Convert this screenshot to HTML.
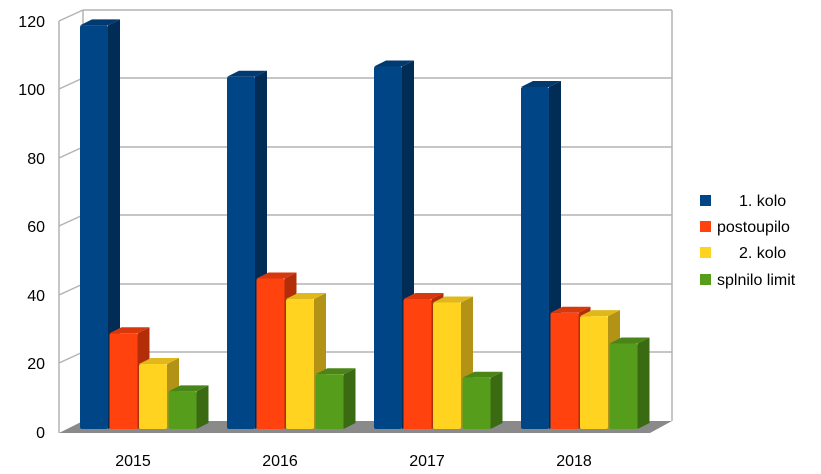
<!DOCTYPE html>
<html><head><meta charset="utf-8"><style>body{margin:0;background:#fff}svg{display:block}text{font-family:"Liberation Sans",sans-serif;fill:#000}</style></head><body>
<svg width="821" height="474" viewBox="0 0 821 474" xmlns="http://www.w3.org/2000/svg">
<g stroke="#b3b3b3" stroke-width="1.5" fill="none">
<line x1="83" y1="10" x2="83" y2="421"/><line x1="672" y1="10" x2="672" y2="421"/>
<line x1="59" y1="21" x2="59" y2="433"/>
<line x1="83" y1="10" x2="672" y2="10"/><line x1="59" y1="21" x2="83" y2="10"/>
<line x1="83" y1="78" x2="672" y2="78"/><line x1="59" y1="89" x2="83" y2="78"/>
<line x1="83" y1="147" x2="672" y2="147"/><line x1="59" y1="158" x2="83" y2="147"/>
<line x1="83" y1="215" x2="672" y2="215"/><line x1="59" y1="226" x2="83" y2="215"/>
<line x1="83" y1="284" x2="672" y2="284"/><line x1="59" y1="295" x2="83" y2="284"/>
<line x1="83" y1="352" x2="672" y2="352"/><line x1="59" y1="363" x2="83" y2="352"/>
</g>
<polygon points="59,433 650,433 672,421 83,421" fill="#8a8a8a"/>
<defs>
<style>
.b1 .s{fill:#002c56}.b1 .t{fill:#003a70}.b1 .f{fill:#004586}
.b2 .s{fill:#b32d09}.b2 .t{fill:#d9380c}.b2 .f{fill:#ff420e}
.b3 .s{fill:#b29316}.b3 .t{fill:#e0b81b}.b3 .f{fill:#ffd320}
.b4 .s{fill:#3a6a12}.b4 .t{fill:#4a8517}.b4 .f{fill:#579d1c}
</style>
</defs>
<!-- 2015 -->
<g class="b1" transform="translate(80,0)"><polygon class="s" points="28,25.4 40,19.4 40,423 28,429"/><polygon class="t" points="0,25.4 12,19.4 40,19.4 28,25.4"/><rect class="f" x="0" y="25.4" width="28" height="403.6" rx="2"/></g>
<g class="b2" transform="translate(109.5,0)"><polygon class="s" points="28,333.2 40,327.2 40,423 28,429"/><polygon class="t" points="0,333.2 12,327.2 40,327.2 28,333.2"/><rect class="f" x="0" y="333.2" width="28" height="95.8" rx="2"/></g>
<g class="b3" transform="translate(139,0)"><polygon class="s" points="28,364 40,358 40,423 28,429"/><polygon class="t" points="0,364 12,358 40,358 28,364"/><rect class="f" x="0" y="364" width="28" height="65" rx="2"/></g>
<g class="b4" transform="translate(168.5,0)"><polygon class="s" points="28,391.4 40,385.4 40,423 28,429"/><polygon class="t" points="0,391.4 12,385.4 40,385.4 28,391.4"/><rect class="f" x="0" y="391.4" width="28" height="37.6" rx="2"/></g>
<!-- 2016 -->
<g class="b1" transform="translate(227,0)"><polygon class="s" points="28,76.7 40,70.7 40,423 28,429"/><polygon class="t" points="0,76.7 12,70.7 40,70.7 28,76.7"/><rect class="f" x="0" y="76.7" width="28" height="352.3" rx="2"/></g>
<g class="b2" transform="translate(256.5,0)"><polygon class="s" points="28,278.5 40,272.5 40,423 28,429"/><polygon class="t" points="0,278.5 12,272.5 40,272.5 28,278.5"/><rect class="f" x="0" y="278.5" width="28" height="150.5" rx="2"/></g>
<g class="b3" transform="translate(286,0)"><polygon class="s" points="28,299 40,293 40,423 28,429"/><polygon class="t" points="0,299 12,293 40,293 28,299"/><rect class="f" x="0" y="299" width="28" height="130" rx="2"/></g>
<g class="b4" transform="translate(315.5,0)"><polygon class="s" points="28,374.3 40,368.3 40,423 28,429"/><polygon class="t" points="0,374.3 12,368.3 40,368.3 28,374.3"/><rect class="f" x="0" y="374.3" width="28" height="54.7" rx="2"/></g>
<!-- 2017 -->
<g class="b1" transform="translate(374,0)"><polygon class="s" points="28,66.5 40,60.5 40,423 28,429"/><polygon class="t" points="0,66.5 12,60.5 40,60.5 28,66.5"/><rect class="f" x="0" y="66.5" width="28" height="362.5" rx="2"/></g>
<g class="b2" transform="translate(403.5,0)"><polygon class="s" points="28,299 40,293 40,423 28,429"/><polygon class="t" points="0,299 12,293 40,293 28,299"/><rect class="f" x="0" y="299" width="28" height="130" rx="2"/></g>
<g class="b3" transform="translate(433,0)"><polygon class="s" points="28,302.5 40,296.5 40,423 28,429"/><polygon class="t" points="0,302.5 12,296.5 40,296.5 28,302.5"/><rect class="f" x="0" y="302.5" width="28" height="126.5" rx="2"/></g>
<g class="b4" transform="translate(462.5,0)"><polygon class="s" points="28,377.7 40,371.7 40,423 28,429"/><polygon class="t" points="0,377.7 12,371.7 40,371.7 28,377.7"/><rect class="f" x="0" y="377.7" width="28" height="51.3" rx="2"/></g>
<!-- 2018 -->
<g class="b1" transform="translate(521,0)"><polygon class="s" points="28,87 40,81 40,423 28,429"/><polygon class="t" points="0,87 12,81 40,81 28,87"/><rect class="f" x="0" y="87" width="28" height="342" rx="2"/></g>
<g class="b2" transform="translate(550.5,0)"><polygon class="s" points="28,312.7 40,306.7 40,423 28,429"/><polygon class="t" points="0,312.7 12,306.7 40,306.7 28,312.7"/><rect class="f" x="0" y="312.7" width="28" height="116.3" rx="2"/></g>
<g class="b3" transform="translate(580,0)"><polygon class="s" points="28,316.1 40,310.1 40,423 28,429"/><polygon class="t" points="0,316.1 12,310.1 40,310.1 28,316.1"/><rect class="f" x="0" y="316.1" width="28" height="112.9" rx="2"/></g>
<g class="b4" transform="translate(609.5,0)"><polygon class="s" points="28,343.5 40,337.5 40,423 28,429"/><polygon class="t" points="0,343.5 12,337.5 40,337.5 28,343.5"/><rect class="f" x="0" y="343.5" width="28" height="85.5" rx="2"/></g>
<g font-size="16" text-anchor="end">
<text x="45" y="27">120</text><text x="45" y="95">100</text><text x="45" y="164">80</text><text x="45" y="232">60</text><text x="45" y="301">40</text><text x="45" y="369">20</text><text x="45" y="438">0</text>
</g>
<g font-size="16" text-anchor="middle">
<text x="133" y="466">2015</text><text x="280" y="466">2016</text><text x="427" y="466">2017</text><text x="574" y="466">2018</text>
</g>
<g font-size="16">
<rect x="700" y="195" width="11" height="11" fill="#004586"/><text x="739" y="206">1. kolo</text>
<rect x="700" y="221" width="11" height="11" fill="#ff420e"/><text x="717" y="232">postoupilo</text>
<rect x="700" y="247" width="11" height="11" fill="#ffd320"/><text x="739" y="258">2. kolo</text>
<rect x="700" y="274" width="11" height="11" fill="#579d1c"/><text x="717" y="285">splnilo limit</text>
</g>
</svg>
</body></html>
